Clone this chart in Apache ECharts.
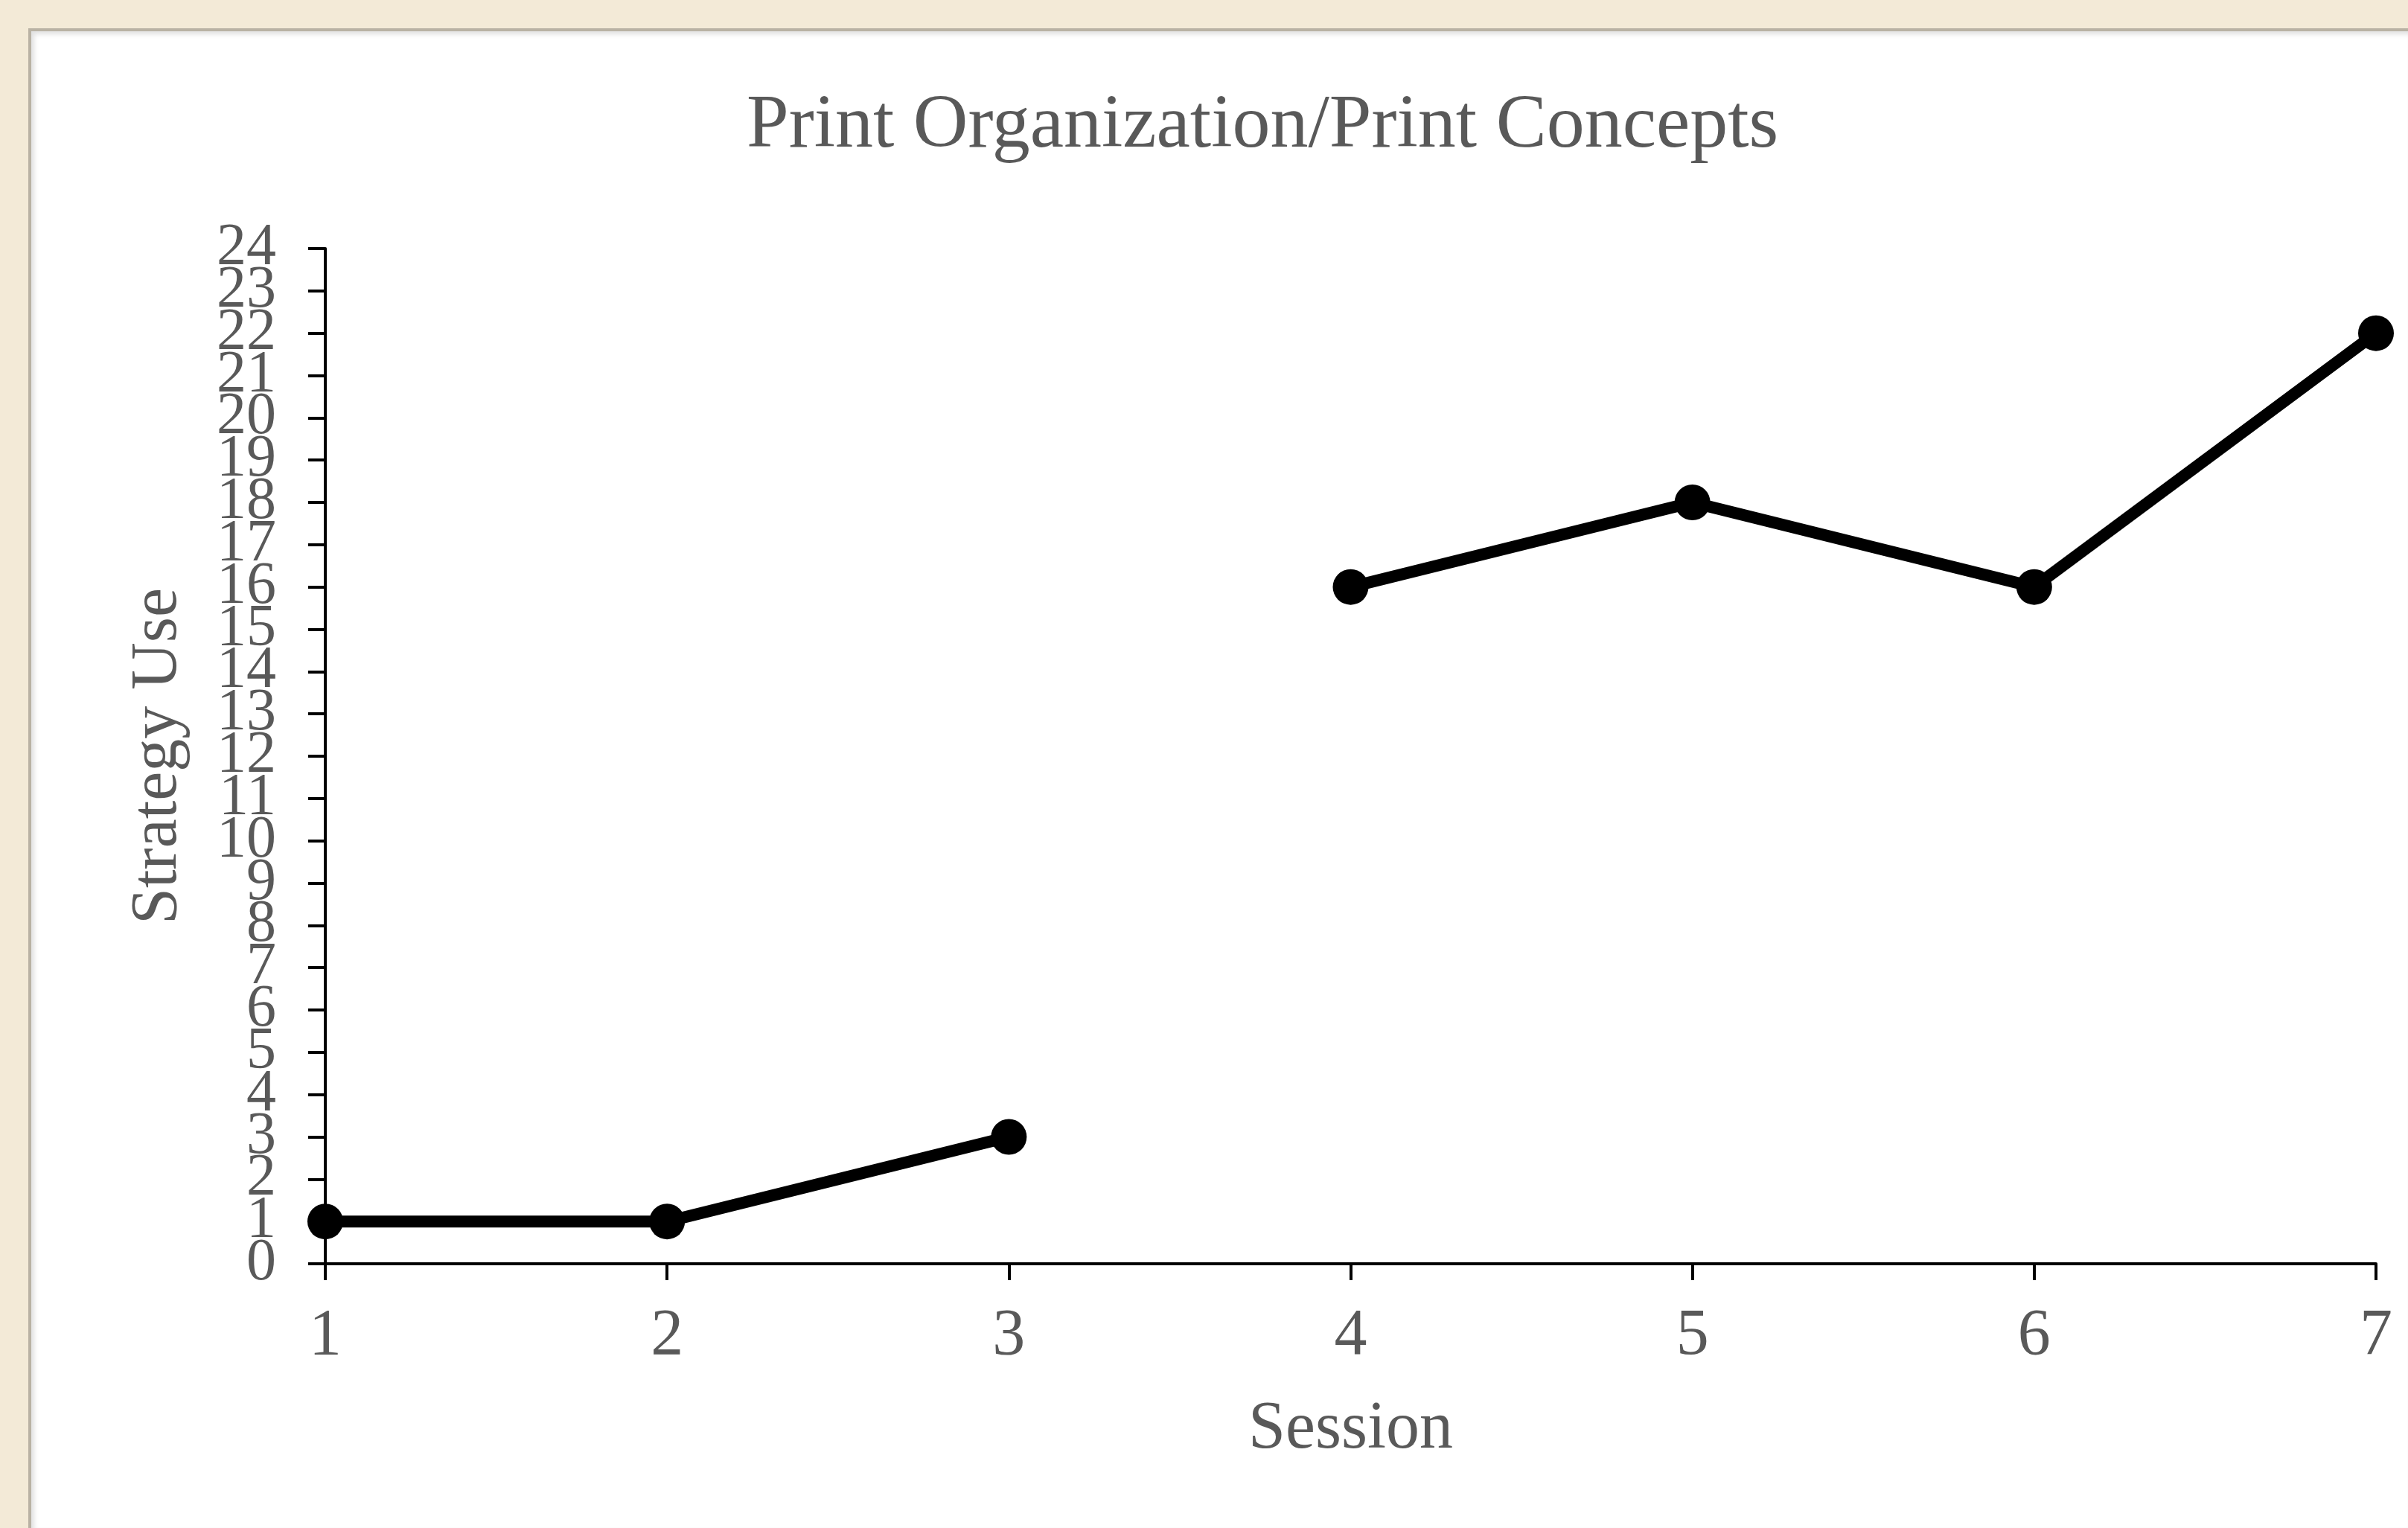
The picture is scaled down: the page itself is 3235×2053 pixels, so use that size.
<!DOCTYPE html>
<html>
<head>
<meta charset="utf-8">
<script src="https://cdn.jsdelivr.net/npm/echarts@6/dist/echarts.min.js"></script>
<style>
  html, body { margin: 0; padding: 0; width: 3235px; height: 2053px; background: #F3EAD7; overflow: hidden; }
  #panel { position: absolute; left: 38px; top: 38px; width: 3197px; height: 2015px; background: #ffffff;
           border-left: 4px solid #B9B2A4; border-top: 4px solid #B9B2A4; box-sizing: border-box;
           box-shadow: inset 4px 4px 6px rgba(0,0,0,0.12); }
  #chart { position: absolute; left: 0; top: 0; width: 3235px; height: 2053px; }
</style>
</head>
<body>
<div id="panel"></div>
<div id="chart"></div>
<script>
const chartTitle = "Print Organization/Print Concepts";
const xAxisName = "Session";
const yAxisName = "Strategy Use";
const phaseASessions = [1, 2, 3];
const phaseAValues = [1, 1, 3];
const phaseBSessions = [4, 5, 6, 7];
const phaseBValues = [16, 18, 16, 22];
const yMin = 0, yMax = 24, yStep = 1;

const toPairs = (xs, ys) => xs.map((x, i) => [x, ys[i]]);
const textColor = "#595959";
const font = "'Liberation Serif', 'Times New Roman', serif";

const chart = echarts.init(document.getElementById('chart'), null, { renderer: 'canvas' });
const lineSeries = (name, data) => ({
  name: name,
  type: 'line',
  data: data,
  yAxisIndex: 0,
  symbol: 'circle',
  symbolSize: 48,
  lineStyle: { color: '#000000', width: 16 },
  itemStyle: { color: '#000000' },
  animation: false
});
const yLabelStyle = { fontFamily: font, fontSize: 80, color: textColor, margin: 66, hideOverlap: false };
chart.setOption({
  backgroundColor: 'transparent',
  title: {
    text: chartTitle,
    left: 998,
    top: 114,
    textStyle: { fontFamily: font, fontSize: 102, fontWeight: 'normal', color: textColor }
  },
  grid: { left: 437, right: 43, top: 334, bottom: 355, containLabel: false },
  xAxis: {
    type: 'value',
    min: 1, max: 7, interval: 1,
    name: xAxisName,
    nameLocation: 'middle',
    nameGap: 178,
    nameTextStyle: { fontFamily: font, fontSize: 90, color: textColor },
    axisLine: { show: true, lineStyle: { color: '#000000', width: 4 } },
    axisTick: { show: true, length: 22, lineStyle: { color: '#000000', width: 4 } },
    axisLabel: { fontFamily: font, fontSize: 88, color: textColor, margin: 54, showMinLabel: true, showMaxLabel: true },
    splitLine: { show: false }
  },
  yAxis: [
    {
      type: 'value',
      min: yMin, max: yMax, interval: yStep,
      position: 'left',
      name: yAxisName,
      nameLocation: 'middle',
      nameRotate: 90,
      nameGap: 180,
      nameTextStyle: { fontFamily: font, fontSize: 88, color: textColor },
      axisLine: { show: true, lineStyle: { color: '#000000', width: 4 } },
      axisTick: { show: true, length: 23, lineStyle: { color: '#000000', width: 4 } },
      axisLabel: Object.assign({}, yLabelStyle, {
        formatter: (v) => (v === yMin || v === yMax) ? '' : String(v)
      }),
      splitLine: { show: false }
    },
    {
      type: 'value',
      min: yMin, max: yMax, interval: yStep,
      position: 'left',
      offset: 0,
      axisLine: { show: false },
      axisTick: { show: false },
      axisLabel: Object.assign({}, yLabelStyle, {
        showMinLabel: true, showMaxLabel: true,
        formatter: (v) => (v === yMin || v === yMax) ? String(v) : ''
      }),
      splitLine: { show: false }
    }
  ],
  series: [
    lineSeries('Phase A', toPairs(phaseASessions, phaseAValues)),
    lineSeries('Phase B', toPairs(phaseBSessions, phaseBValues))
  ]
});
</script>
</body>
</html>
